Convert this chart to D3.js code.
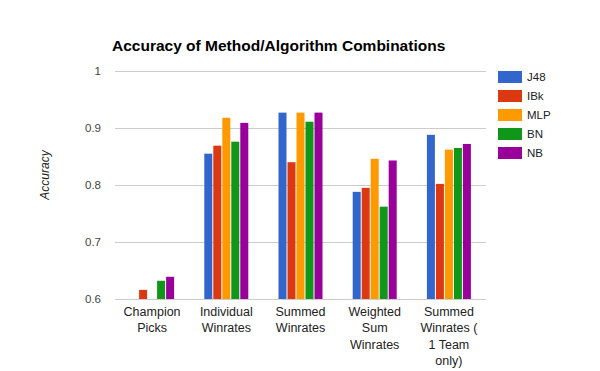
<!DOCTYPE html>
<html>
<head>
<meta charset="utf-8">
<script src="https://cdn.jsdelivr.net/npm/d3@7"></script>
<style>
  body { margin: 0; background: #fff; }
  svg { display: block; font-family: "Liberation Sans", Arial, sans-serif; }
</style>
</head>
<body>
<svg width="600" height="371"></svg>
<script>
// data
const categories = ["Champion Picks", "Individual Winrates", "Summed Winrates", "Weighted Sum Winrates", "Summed Winrates ( 1 Team only)"]
const catLines = [["Champion", "Picks"], ["Individual", "Winrates"], ["Summed", "Winrates"], ["Weighted", "Sum", "Winrates"], ["Summed", "Winrates (", "1 Team", "only)"]]
const seriesNames = ["J48", "IBk", "MLP", "BN", "NB"]
const J48 = [null, 0.855, 0.927, 0.788, 0.888]
const IBk = [0.616, 0.869, 0.840, 0.795, 0.802]
const MLP = [null, 0.918, 0.927, 0.846, 0.862]
const BN  = [0.632, 0.876, 0.911, 0.762, 0.865]
const NB  = [0.639, 0.909, 0.927, 0.843, 0.872]
const yTicks = [0.6, 0.7, 0.8, 0.9, 1]
const colors = ["#3366cc", "#dc3912", "#ff9900", "#109618", "#990099"]

const allSeries = [J48, IBk, MLP, BN, NB]

const svg = d3.select('svg')

const x0 = d3.scaleBand()
  .domain(categories)
  .range([115, 486])
  .paddingInner(0.407)
  .paddingOuter(0.2035)

const x1 = d3.scaleBand()
  .domain(seriesNames)
  .range([0, x0.bandwidth()])
  .paddingInner(0.11)

const y = d3.scaleLinear()
  .domain([0.6, 1])
  .range([299, 71])

const color = d3.scaleOrdinal().domain(seriesNames).range(colors)

// gridlines
svg.append('g')
  .selectAll('line')
  .data(yTicks)
  .enter().append('line')
  .attr('x1', 115)
  .attr('x2', 486)
  .attr('y1', d => Math.round(y(d)) + 0.5)
  .attr('y2', d => Math.round(y(d)) + 0.5)
  .attr('stroke', '#cccccc')
  .attr('stroke-width', 1)

// y tick labels
svg.append('g')
  .selectAll('text')
  .data(yTicks)
  .enter().append('text')
  .attr('x', 101)
  .attr('y', d => y(d))
  .attr('dy', '0.35em')
  .attr('text-anchor', 'end')
  .attr('font-size', 11.5)
  .attr('fill', '#444')
  .text(d => d)

// y axis title
svg.append('text')
  .attr('transform', 'translate(49,175) rotate(-90)')
  .attr('text-anchor', 'middle')
  .attr('font-size', 12)
  .attr('font-style', 'italic')
  .attr('fill', '#222')
  .text('Accuracy')

// bars
const rows = categories.map((c, i) => ({
  cat: c,
  vals: seriesNames.map((s, j) => ({ s: s, v: allSeries[j][i] })).filter(d => d.v != null)
}))

const groups = svg.append('g')
  .selectAll('g')
  .data(rows)
  .enter().append('g')
  .attr('transform', d => `translate(${x0(d.cat)},0)`)

groups.selectAll('rect')
  .data(d => d.vals)
  .enter().append('rect')
  .attr('x', d => x1(d.s))
  .attr('width', x1.bandwidth())
  .attr('y', d => y(d.v))
  .attr('height', d => y(0.6) - y(d.v))
  .attr('fill', d => color(d.s))

// x labels
const xl = svg.append('g')
  .selectAll('text')
  .data(categories)
  .enter().append('text')
  .attr('x', d => x0(d) + x0.bandwidth() / 2)
  .attr('y', 316)
  .attr('text-anchor', 'middle')
  .attr('font-size', 12.5)
  .attr('fill', '#222')

xl.selectAll('tspan')
  .data((d, i) => catLines[i])
  .enter().append('tspan')
  .attr('x', function() { return this.parentNode.getAttribute('x') })
  .attr('dy', (d, i) => i === 0 ? 0 : 16.3)
  .text(d => d)

// title
svg.append('text')
  .attr('x', 112)
  .attr('y', 50.5)
  .attr('font-size', 15.5)
  .attr('font-weight', 'bold')
  .attr('fill', '#000')
  .text('Accuracy of Method/Algorithm Combinations')

// legend
const legend = svg.append('g')
  .selectAll('g')
  .data(seriesNames)
  .enter().append('g')
  .attr('transform', (d, i) => `translate(498,${71 + i * 19})`)

legend.append('rect')
  .attr('width', 24)
  .attr('height', 12)
  .attr('fill', d => color(d))

legend.append('text')
  .attr('x', 29)
  .attr('y', 10)
  .attr('font-size', 11.5)
  .attr('fill', '#222')
  .text(d => d)
</script>
</body>
</html>
